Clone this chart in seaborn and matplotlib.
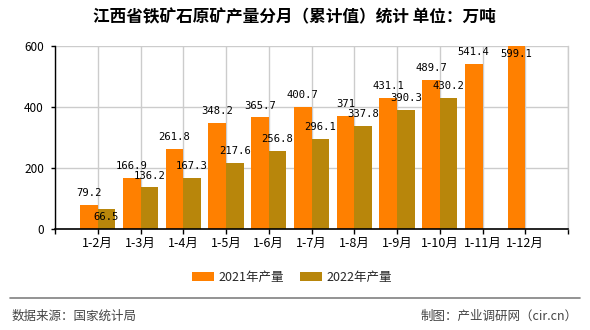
import numpy as np
import pandas as pd
import matplotlib
matplotlib.use("Agg")
import matplotlib.pyplot as plt
from matplotlib.lines import Line2D
from matplotlib.patches import Patch
import seaborn as sns

# ---- data ----
categories = ["1-2月", "1-3月", "1-4月", "1-5月", "1-6月", "1-7月",
              "1-8月", "1-9月", "1-10月", "1-11月", "1-12月"]
series_names = ["2021年产量", "2022年产量"]
values_2021 = [79.2, 166.9, 261.8, 348.2, 365.7, 400.7, 371, 431.1, 489.7, 541.4, 599.1]
values_2022 = [66.5, 136.2, 167.3, 217.6, 256.8, 296.1, 337.8, 390.3, 430.2, np.nan, np.nan]
y_ticks = [0, 200, 400, 600]
title = "江西省铁矿石原矿产量分月（累计值）统计 单位：万吨"
source_text = "数据来源：国家统计局"
credit_text = "制图：产业调研网（cir.cn）"

colors = ["#FF8000", "#B8860B"]

df = pd.DataFrame({
    "cat": categories * 2,
    "series": [series_names[0]] * len(categories) + [series_names[1]] * len(categories),
    "value": values_2021 + values_2022,
})

sns.set_theme(style="white")
plt.rcParams["font.family"] = ["Noto Sans CJK SC", "DejaVu Sans"]

fig = plt.figure(figsize=(5.9, 3.3), dpi=100)
ax = fig.add_axes([55 / 590, 1 - 229 / 330, 513 / 590, 183 / 330])

sns.barplot(data=df, x="cat", y="value", hue="series", order=categories,
            hue_order=series_names, palette=colors, width=0.82, gap=0,
            saturation=1, errorbar=None, legend=False, ax=ax, zorder=3,
            linewidth=0, edgecolor="none")

ax.set_xlim(-1, len(categories))
ax.set_ylim(0, 600)
ax.set_yticks(y_ticks)
ax.set_yticklabels([str(t) for t in y_ticks], fontsize=8.5, color="#000000")
ax.set_xticks(range(-1, len(categories) + 1))
ax.set_xticklabels([""] + categories + [""], fontsize=9, color="#000000")
ax.set_xlabel("")
ax.set_ylabel("")

# grid
ax.grid(True, axis="both", color="#cccccc", linewidth=1.0, zorder=0)
ax.set_axisbelow(True)
ax.spines["top"].set_visible(False)
ax.spines["right"].set_color("#cccccc")
ax.spines["right"].set_linewidth(1.0)
ax.spines["left"].set_color("#000000")
ax.spines["bottom"].set_color("#000000")
ax.spines["left"].set_linewidth(1.0)
ax.spines["bottom"].set_linewidth(1.2)
ax.spines["left"].set_zorder(5)
ax.spines["bottom"].set_zorder(5)
ax.tick_params(axis="x", bottom=True, length=3.5, width=1, color="#000000", pad=2)
ax.tick_params(axis="y", left=True, length=3, width=1, color="#000000", pad=5)

# data labels
px_per_unit = 183 / 600.0
up = 8.6   # points
down = -5.8
for i, (a, b) in enumerate(zip(values_2021, values_2022)):
    xa = i - 0.205
    xb = i + 0.205
    off_a = up if (a * px_per_unit + 16) < 183 else down
    ax.annotate(f"{a:g}", (xa, a), xytext=(0, off_a), textcoords="offset points",
                ha="center", va="center", fontsize=7.6, family="DejaVu Sans Mono",
                color="#000000", zorder=6, annotation_clip=False)
    if not np.isnan(b):
        off_b = up if abs(a - b) * px_per_unit > 6 else down
        ax.annotate(f"{b:g}", (xb, b), xytext=(0, off_b), textcoords="offset points",
                    ha="center", va="center", fontsize=7.6, family="DejaVu Sans Mono",
                    color="#000000", zorder=6, annotation_clip=False)

# title
fig.text(294 / 590, 1 - 17 / 330, title, ha="center", va="center",
         fontsize=12, fontweight="bold", color="#000000")

# legend
handles = [Patch(facecolor=c, edgecolor="none") for c in colors]
fig.legend(handles, series_names, loc="center", bbox_to_anchor=(292 / 590, 1 - 277 / 330),
           ncol=2, frameon=False, fontsize=9, handlelength=1.75, handleheight=0.75,
           handletextpad=0.35, columnspacing=1.35, borderpad=0)

# separator + footer
fig.add_artist(Line2D([10 / 590, 580 / 590], [1 - 298 / 330, 1 - 298 / 330],
                      transform=fig.transFigure, color="#808080", linewidth=1.2))
fig.text(12 / 590, 1 - 316 / 330, source_text, ha="left", va="center",
         fontsize=9, color="#444444")
fig.text(578 / 590, 1 - 316 / 330, credit_text, ha="right", va="center",
         fontsize=9, color="#444444")

fig.savefig("out.png", dpi=100)
